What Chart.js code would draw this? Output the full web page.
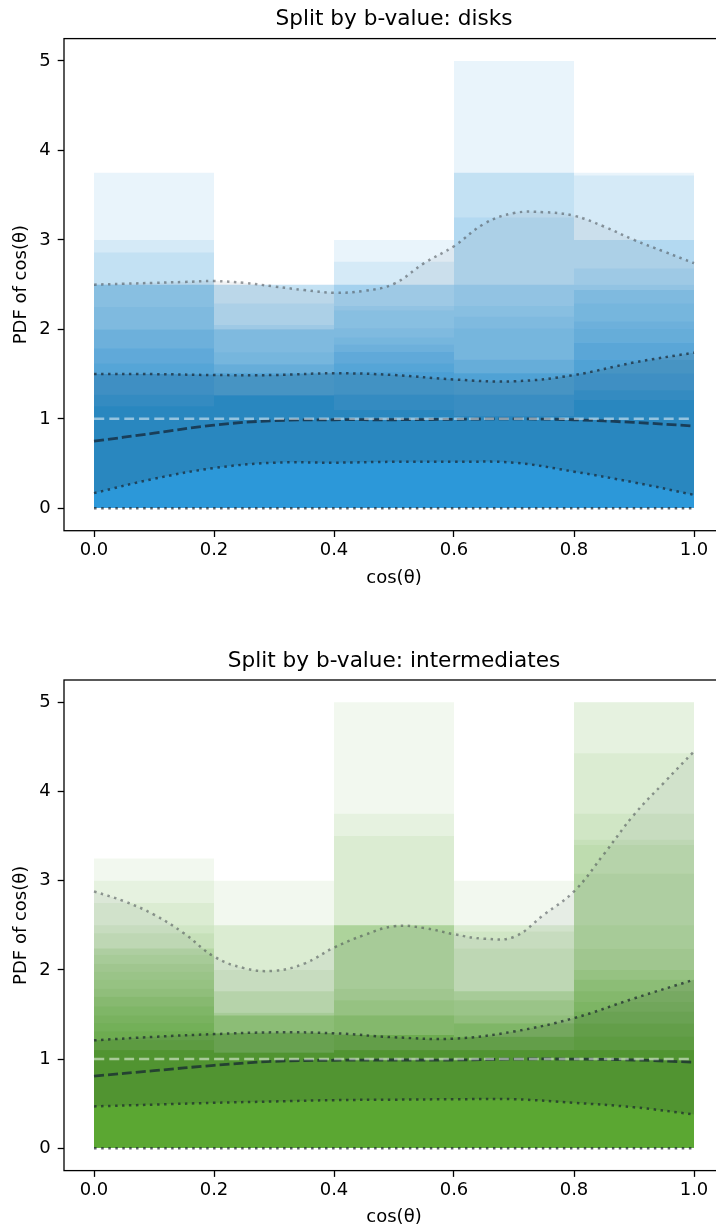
<!DOCTYPE html>
<html>
<head>
<meta charset="utf-8">
<script src="https://cdn.jsdelivr.net/npm/chart.js@4.4.1/dist/chart.umd.min.js"></script>
<style>
  html, body { margin: 0; padding: 0; background: #fff; }
  body { width: 716px; height: 1230px; overflow: hidden; position: relative; }
  canvas { position: absolute; left: 0; }
  #disks { top: 0; }
  #inter { top: 641px; }
</style>
</head>
<body>
<canvas id="disks" width="726" height="600"></canvas>
<canvas id="inter" width="726" height="589"></canvas>
<script>
// bins of cos(theta) and tick positions
const binCentres = [0.1, 0.3, 0.5, 0.7, 0.9];
const xTicks = [0, 0.2, 0.4, 0.6, 0.8, 1.0];
const yTicks = [0, 1, 2, 3, 4, 5];
const curveX = [0, 0.1, 0.2, 0.3, 0.4, 0.5, 0.6, 0.7, 0.8, 0.9, 1.0];
const fineX = [0, 0.05, 0.1, 0.15, 0.2, 0.25, 0.3, 0.35, 0.4, 0.45, 0.5,
               0.55, 0.6, 0.65, 0.7, 0.75, 0.8, 0.85, 0.9, 0.95, 1.0];

// histogram layers per bin: [height, how many layers stop there]
const disksLayers = [
  [[3.75,1],[3.0,1],[2.86,1],[2.5,4],[2.25,1],[2.0,2],[1.79,2],[1.62,2],[1.5,4],[1.27,4],[1.14,8]],
  [[2.5,3],[2.29,1],[2.05,1],[2.0,3],[1.745,1],[1.61,2],[1.51,4],[1.26,15]],
  [[3.0,1],[2.755,1],[2.5,3],[2.26,1],[2.21,1],[2.01,1],[1.91,1],[1.83,1],[1.75,2],[1.62,2],[1.52,3],[1.27,5],[1.1,8]],
  [[5.0,1],[3.75,2],[3.25,1],[2.5,2],[2.26,1],[2.14,1],[2.01,1],[1.66,2],[1.51,4],[1.27,5],[1.03,10]],
  [[3.75,1],[3.72,1],[3.0,2],[2.68,1],[2.5,1],[2.44,2],[2.29,1],[2.09,1],[2.01,1],[1.85,2],[1.66,2],[1.51,3],[1.32,4],[1.21,8]]
];
const interLayers = [
  [[3.25,1],[3.0,1],[2.75,1],[2.5,1],[2.41,1],[2.24,2],[2.17,1],[2.07,1],[1.98,1],[1.89,1],[1.79,1],[1.70,2],[1.59,2],[1.49,2],[1.40,2],[1.31,2],[1.21,3],[1.1,10]],
  [[3.0,1],[2.5,2],[2.0,1],[1.76,2],[1.52,2],[1.49,5],[1.29,7],[1.07,15]],
  [[5.0,1],[3.75,1],[3.5,1],[2.5,5],[1.79,1],[1.66,2],[1.49,4],[1.27,7],[1.10,13]],
  [[3.0,1],[2.5,2],[2.43,1],[2.24,1],[1.76,3],[1.66,2],[1.49,2],[1.40,4],[1.25,6],[1.1,13]],
  [[5.0,2],[4.43,1],[3.75,1],[3.46,1],[3.40,1],[3.08,1],[2.5,1],[2.24,1],[2.0,2],[1.89,2],[1.76,2],[1.64,2],[1.53,2],[1.40,3],[1.25,3],[1.1,10]]
];

// percentile curves
const disksMedian = [0.75, 0.84, 0.93, 0.98, 0.99, 0.99, 0.995, 1.0, 0.99, 0.96, 0.92];
const disksLo68 = [0.17, 0.33, 0.45, 0.51, 0.51, 0.52, 0.52, 0.51, 0.41, 0.29, 0.15];
const disksHi68 = [1.5, 1.5, 1.49, 1.49, 1.51, 1.49, 1.44, 1.42, 1.49, 1.63, 1.74];
const disksHi95 = [2.50, 2.51, 2.52, 2.53, 2.54, 2.52, 2.48, 2.44, 2.41, 2.43, 2.51,
                   2.74, 2.93, 3.18, 3.30, 3.31, 3.27, 3.15, 3.0, 2.87, 2.74];

const interMedian = [0.81, 0.87, 0.93, 0.975, 0.987, 0.99, 0.99, 1.0, 1.0, 0.99, 0.965];
const interLo68 = [0.47, 0.49, 0.51, 0.525, 0.54, 0.545, 0.55, 0.55, 0.51, 0.46, 0.38];
const interHi68 = [1.21, 1.25, 1.28, 1.30, 1.29, 1.245, 1.23, 1.31, 1.46, 1.68, 1.89];
const interHi95 = [2.88, 2.77, 2.62, 2.41, 2.15, 2.02, 1.99, 2.07, 2.25, 2.39, 2.49,
                   2.47, 2.40, 2.35, 2.37, 2.62, 2.88, 3.3, 3.74, 4.1, 4.45];

Chart.defaults.font.family = "'DejaVu Sans', sans-serif";
Chart.defaults.font.size = 18;
Chart.defaults.color = '#000';

function expand(pairs) {
  const out = [];
  pairs.forEach(([v, n]) => { for (let i = 0; i < n; i++) out.push(v); });
  return out;
}

function pts(xs, ys) {
  return xs.map((x, i) => ({ x: x, y: ys[i] }));
}

// one translucent bar dataset per layer, they pile up into the gradient
function layerSets(layers, colour) {
  const tops = layers.map(expand);
  const n = Math.max(...tops.map(t => t.length));
  const sets = [];
  for (let k = 0; k < n; k++) {
    sets.push({
      type: 'bar',
      data: binCentres.map((x, b) => ({ x: x, y: tops[b][k] !== undefined ? tops[b][k] : null })),
      backgroundColor: colour,
      borderWidth: 0,
      grouped: false,
      barPercentage: 1,
      categoryPercentage: 1,
      inflateAmount: 0,
      order: 10
    });
  }
  return sets;
}

function curveSets(median, lo68, hi68, hi95) {
  const dark = 'rgba(25,35,45,0.7)';
  const dots = [2.5, 4.5];
  return [
    { data: pts([0, 1], [0, 0]), borderColor: dark, borderDash: dots },
    { data: pts([0, 1], [1, 1]), borderColor: 'rgba(255,255,255,0.5)', borderDash: [10, 5] },
    { data: pts(curveX, median), borderColor: 'rgba(20,35,50,0.72)', borderDash: [10, 4], borderWidth: 2.8 },
    { data: pts(curveX, lo68), borderColor: dark, borderDash: dots },
    { data: pts(curveX, hi68), borderColor: dark, borderDash: dots,
      fill: { target: 3 }, backgroundColor: 'rgba(30,40,50,0.15)' },
    { data: pts(fineX, hi95), borderColor: 'rgba(70,75,80,0.55)', borderDash: dots,
      fill: { target: 4 }, backgroundColor: 'rgba(90,100,110,0.08)' }
  ].map(d => Object.assign({
    type: 'line', pointRadius: 0, borderWidth: 2.5, tension: 0.4, fill: false, order: 0
  }, d));
}

// axes box and title centred over the plot area
const framePlugin = {
  id: 'frame',
  afterDraw(chart, args, opts) {
    const { ctx, chartArea: a } = chart;
    ctx.save();
    ctx.strokeStyle = '#000';
    ctx.lineWidth = 1.3;
    ctx.strokeRect(a.left, a.top, a.right - a.left, a.bottom - a.top);
    ctx.fillStyle = '#000';
    ctx.font = "21.6px 'DejaVu Sans'";
    ctx.textAlign = 'center';
    ctx.textBaseline = 'middle';
    ctx.fillText(opts.text, (a.left + a.right) / 2, a.top - 19);
    ctx.restore();
  }
};

function makeChart(id, title, layers, colour, curves, padTop, xAxisH, xTitlePad) {
  const ctx = document.getElementById(id).getContext('2d');
  return new Chart(ctx, {
    type: 'bar',
    data: { datasets: curveSets(...curves).concat(layerSets(layers, colour)) },
    plugins: [framePlugin],
    options: {
      responsive: false,
      animation: false,
      devicePixelRatio: 1,
      layout: { padding: { top: padTop, right: 2, left: 0, bottom: 0 } },
      plugins: {
        legend: { display: false },
        tooltip: { enabled: false },
        frame: { text: title }
      },
      scales: {
        x: {
          type: 'linear', min: -0.05, max: 1.05, offset: false,
          afterBuildTicks: s => { s.ticks = xTicks.map(v => ({ value: v })); },
          afterFit: s => { s.height = xAxisH; },
          grid: { display: true, offset: false, drawOnChartArea: false, drawTicks: true,
                  tickLength: 6.3, tickColor: '#000', tickWidth: 1.3 },
          border: { display: false },
          ticks: { padding: 2.2, autoSkip: false, maxRotation: 0, callback: v => v.toFixed(1) },
          title: { display: true, text: 'cos(θ)', padding: { top: 0, bottom: xTitlePad } }
        },
        y: {
          min: -0.25, max: 5.25,
          afterBuildTicks: s => { s.ticks = yTicks.map(v => ({ value: v })); },
          afterFit: s => { s.width = 64; },
          grid: { display: true, drawOnChartArea: false, drawTicks: true,
                  tickLength: 6.3, tickColor: '#000', tickWidth: 1.3 },
          border: { display: false },
          ticks: { padding: 7, callback: v => String(v) },
          title: { display: true, text: 'PDF of cos(θ)', padding: { top: 11, bottom: 0 } }
        }
      }
    }
  });
}

makeChart('disks', 'Split by b-value: disks', disksLayers, 'rgba(38,146,211,0.1)',
  [disksMedian, disksLo68, disksHi68, disksHi95], 38.6, 69.3, 11.2);
makeChart('inter', 'Split by b-value: intermediates', interLayers, 'rgba(82,162,40,0.075)',
  [interMedian, interLo68, interHi68, interHi95], 39, 59.4, 2.2);
</script>
</body>
</html>
